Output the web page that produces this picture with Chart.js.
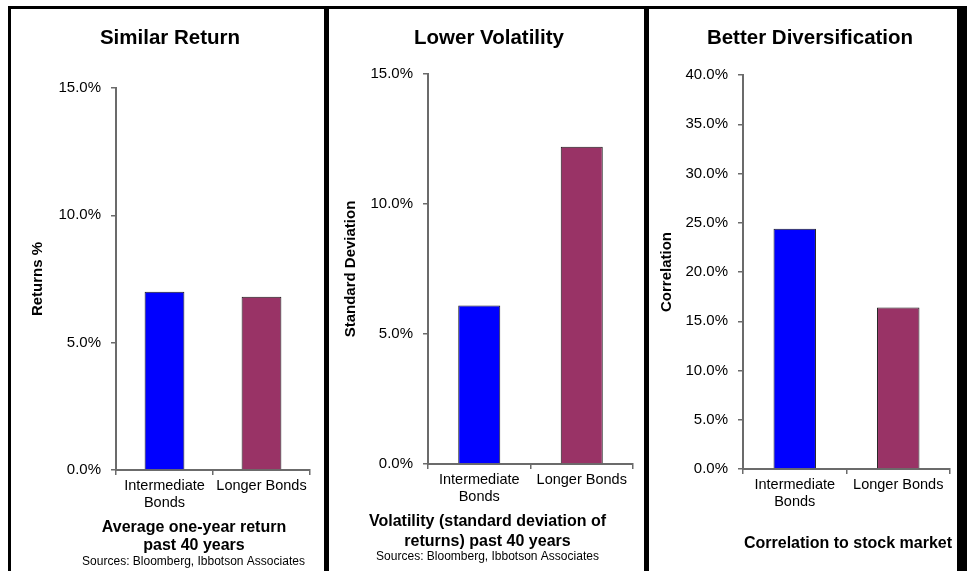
<!DOCTYPE html>
<html>
<head>
<meta charset="utf-8">
<script src="https://cdn.jsdelivr.net/npm/chart.js@4.4.1/dist/chart.umd.min.js"></script>
<style>
  body { margin: 0; background: #fff; }
  #wrap { position: relative; width: 967px; height: 571px; overflow: hidden; background: #fff; }
  .line { position: absolute; background: #000; }
  canvas { position: absolute; top: 9px; }
</style>
</head>
<body>
<div id="wrap">
  <div class="line" style="left:8px;top:6px;width:959px;height:3px"></div>
  <div class="line" style="left:8px;top:6px;width:3px;height:565px"></div>
  <div class="line" style="left:324px;top:6px;width:5px;height:565px"></div>
  <div class="line" style="left:644px;top:6px;width:5px;height:565px"></div>
  <div class="line" style="left:957px;top:6px;width:10px;height:565px"></div>
  <canvas id="returns" width="313" height="562" style="left:11px"></canvas>
  <canvas id="volatility" width="315" height="562" style="left:329px"></canvas>
  <canvas id="correlation" width="307" height="562" style="left:650px"></canvas>
</div>
<script>
// data
const categories = [['Intermediate', 'Bonds'], 'Longer Bonds'];
const barColors = ['#0000FF', '#993366'];

const returnValues = [7.0, 6.8];
const volatilityValues = [6.1, 12.2];
const correlationValues = [24.4, 16.4];

const returnTicks = [0, 5, 10, 15];
const volatilityTicks = [0, 5, 10, 15];
const correlationTicks = [0, 5, 10, 15, 20, 25, 30, 35, 40];

const panelTitles = ['Similar Return', 'Lower Volatility', 'Better Diversification'];
const yTitles = ['Returns %', 'Standard Deviation', 'Correlation'];
const returnCaption = ['Average one-year return', 'past 40 years'];
const volatilityCaption = ['Volatility (standard deviation of', 'returns) past 40 years'];
const correlationCaption = ['Correlation to stock market'];
const sourceNote = 'Sources: Bloomberg, Ibbotson Associates';

const FONT = "Arial, 'Liberation Sans', sans-serif";
const AXIS = '#6b6b6b';

// draws the caption lines under each chart
const captionPlugin = {
  id: 'captions',
  afterDraw(chart, args, opts) {
    const ctx = chart.ctx;
    ctx.save();
    ctx.textAlign = 'center';
    ctx.textBaseline = 'middle';
    ctx.fillStyle = '#000';
    (opts.lines || []).forEach(l => {
      ctx.font = l.font;
      ctx.fillText(l.text, l.x, l.y);
    });
    ctx.restore();
  }
};

function makeChart(id, p) {
  const ctx = document.getElementById(id).getContext('2d');
  return new Chart(ctx, {
    type: 'bar',
    data: {
      labels: categories,
      datasets: [{
        data: p.values,
        backgroundColor: barColors,
        borderColor: '#1a1a1a',
        borderWidth: 1,
        barPercentage: 0.41,
        categoryPercentage: 1
      }]
    },
    plugins: [captionPlugin],
    options: {
      responsive: false,
      animation: false,
      devicePixelRatio: 1,
      layout: { padding: p.padding },
      scales: {
        x: {
          grid: { drawOnChartArea: false, tickLength: 5, tickColor: AXIS, lineWidth: 1.5 },
          border: { color: AXIS, width: 2 },
          ticks: { color: '#000', padding: 2, maxRotation: 0, font: { family: FONT, size: 14.5 } }
        },
        y: {
          min: p.ticks[0],
          max: p.ticks[p.ticks.length - 1],
          afterBuildTicks: scale => { scale.ticks = p.ticks.map(v => ({ value: v })); },
          afterFit: scale => { scale.width = p.yWidth; },
          grid: { drawOnChartArea: false, tickLength: 5, tickColor: AXIS, lineWidth: 1.5 },
          border: { color: AXIS, width: 2 },
          ticks: {
            color: '#000',
            padding: 10,
            font: { family: FONT, size: 15 },
            callback: v => v.toFixed(1) + '%'
          },
          title: {
            display: true,
            text: p.yTitle,
            color: '#000',
            padding: { top: p.yTitlePad, bottom: 0 },
            font: { family: FONT, size: 15, weight: 'bold' }
          }
        }
      },
      plugins: {
        legend: { display: false },
        tooltip: { enabled: false },
        title: {
          display: true,
          text: p.title,
          color: '#000',
          padding: { top: 17, bottom: p.titleGap },
          font: { family: FONT, size: 20.5, weight: 'bold' }
        },
        captions: { lines: p.captions }
      }
    }
  });
}

const bold16 = 'bold 16px ' + FONT;
const small12 = '12px ' + FONT;

makeChart('returns', {
  values: returnValues,
  ticks: returnTicks,
  title: panelTitles[0],
  yTitle: yTitles[0],
  yWidth: 86,
  yTitlePad: -1,
  titleGap: 37.4,
  padding: { top: 0, left: 19, right: 14, bottom: 57.2 },
  captions: [
    { text: returnCaption[0], font: bold16, x: 183, y: 519 },
    { text: returnCaption[1], font: bold16, x: 183, y: 537 },
    { text: sourceNote, font: small12, x: 182.5, y: 553 }
  ]
});

makeChart('volatility', {
  values: volatilityValues,
  ticks: volatilityTicks,
  title: panelTitles[1],
  yTitle: yTitles[1],
  yWidth: 83,
  yTitlePad: -3,
  titleGap: 23.4,
  padding: { top: 0, left: 16, right: 11, bottom: 63.2 },
  captions: [
    { text: volatilityCaption[0], font: bold16, x: 158.5, y: 513 },
    { text: volatilityCaption[1], font: bold16, x: 158.5, y: 533 },
    { text: sourceNote, font: small12, x: 158.5, y: 548 }
  ]
});

makeChart('correlation', {
  values: correlationValues,
  ticks: correlationTicks,
  title: panelTitles[2],
  yTitle: yTitles[2],
  yWidth: 73,
  yTitlePad: -12,
  titleGap: 24.4,
  padding: { top: 0, left: 20, right: 7, bottom: 58.2 },
  captions: [
    { text: correlationCaption[0], font: bold16, x: 198, y: 535 }
  ]
});
</script>
</body>
</html>
